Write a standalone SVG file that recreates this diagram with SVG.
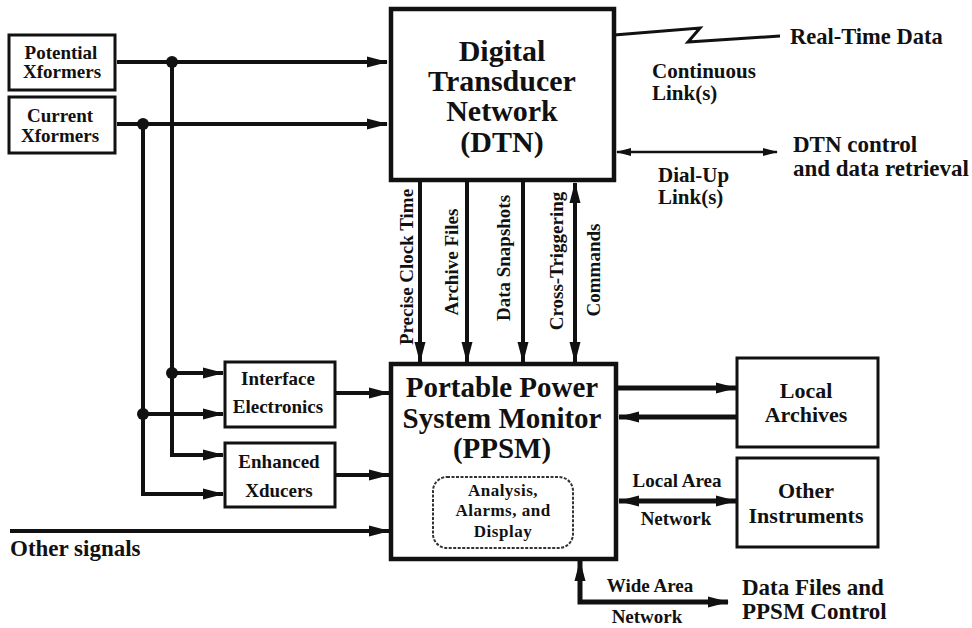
<svg xmlns="http://www.w3.org/2000/svg" width="972" height="628" viewBox="0 0 972 628">
<style>
text{font-family:'Liberation Serif',Tinos,'Times New Roman','DejaVu Serif',serif;font-weight:bold;fill:#111}
.box{fill:#fff;stroke:#111;stroke-width:3}
.big{fill:#fff;stroke:#111;stroke-width:4.5}
.ln{fill:none;stroke:#111;stroke-width:4}
.hv{fill:none;stroke:#111;stroke-width:5}
.c{text-anchor:middle}
</style>
<defs>
<marker id="ah" markerUnits="userSpaceOnUse" markerWidth="22" markerHeight="14" refX="20" refY="7" orient="auto-start-reverse">
<path d="M0,1.5 L21,7 L0,12.5 z" fill="#111"/>
</marker>
<marker id="ahs" markerUnits="userSpaceOnUse" markerWidth="16" markerHeight="10" refX="14" refY="5" orient="auto-start-reverse">
<path d="M0,1 L15,5 L0,9 z" fill="#111"/>
</marker>
</defs>
<rect width="972" height="628" fill="#fff"/>

<g id="connectors">
<path class="ln" d="M117,62 H387" marker-end="url(#ah)"/>
<path class="ln" d="M117,124 H387" marker-end="url(#ah)"/>
<path class="ln" d="M172,62 V455 H223" marker-end="url(#ah)"/>
<path class="ln" d="M172,373 H223" marker-end="url(#ah)"/>
<path class="ln" d="M143,124 V494 H223" marker-end="url(#ah)"/>
<path class="ln" d="M143,414 H223" marker-end="url(#ah)"/>
<circle cx="172" cy="62" r="6" fill="#111"/>
<circle cx="143" cy="124" r="6" fill="#111"/>
<circle cx="172" cy="373" r="6" fill="#111"/>
<circle cx="143" cy="414" r="6" fill="#111"/>
<path class="ln" d="M335,393 H389" marker-end="url(#ah)"/>
<path class="ln" d="M335,475 H389" marker-end="url(#ah)"/>
<path class="ln" d="M10,531 H389" marker-end="url(#ah)"/>
<path class="ln" d="M420,182 V362" marker-end="url(#ah)"/>
<path class="ln" d="M467,182 V362" marker-end="url(#ah)"/>
<path class="ln" d="M523,182 V362" marker-end="url(#ah)"/>
<path class="ln" d="M575,183 V362" marker-start="url(#ah)" marker-end="url(#ah)"/>
<path class="hv" d="M618,388 H736" marker-end="url(#ah)"/>
<path class="hv" d="M737,417 H619" marker-end="url(#ah)"/>
<path class="hv" d="M619,501 H736" marker-start="url(#ah)" marker-end="url(#ah)"/>
<path class="hv" d="M728,602 H580 V561" marker-start="url(#ah)" marker-end="url(#ah)"/>
<path fill="none" stroke="#111" stroke-width="2.5" d="M617,152 H777" marker-start="url(#ahs)" marker-end="url(#ahs)"/>
<path fill="none" stroke="#111" stroke-width="3" stroke-linejoin="miter" d="M614,35 L700,28 L688,42 L780,36"/>
</g>

<g id="potential-xformers">
<rect class="box" x="9" y="35" width="106" height="55"/>
<text class="c" x="61" y="59" font-size="19">Potential</text>
<text class="c" x="62" y="78" font-size="19">Xformers</text>
</g>
<g id="current-xformers">
<rect class="box" x="9" y="97" width="106" height="56"/>
<text class="c" x="60" y="122" font-size="19">Current</text>
<text class="c" x="60" y="142" font-size="19">Xformers</text>
</g>

<g id="dtn">
<rect class="big" x="391" y="9" width="223" height="171"/>
<text class="c" x="502" y="61" font-size="30">Digital</text>
<text class="c" x="502" y="91" font-size="30">Transducer</text>
<text class="c" x="502" y="121" font-size="30">Network</text>
<text class="c" x="502" y="152" font-size="30">(DTN)</text>
</g>

<g id="dtn-labels">
<text x="790" y="44" font-size="22.5">Real-Time Data</text>
<text x="652" y="78" font-size="21">Continuous</text>
<text x="652" y="100" font-size="21">Link(s)</text>
<text x="793" y="152" font-size="23">DTN control</text>
<text x="793" y="176" font-size="23">and data retrieval</text>
<text x="658" y="182" font-size="21">Dial-Up</text>
<text x="658" y="204" font-size="21">Link(s)</text>
</g>

<g id="vertical-labels" font-size="19">
<text class="c" transform="translate(413,267) rotate(-90)">Precise Clock Time</text>
<text class="c" transform="translate(458,262) rotate(-90)">Archive Files</text>
<text class="c" transform="translate(510,258) rotate(-90)">Data Snapshots</text>
<text class="c" transform="translate(563,261) rotate(-90)">Cross-Triggering</text>
<text class="c" transform="translate(600,270) rotate(-90)">Commands</text>
</g>

<g id="interface-electronics">
<rect class="box" x="225" y="362" width="110" height="65"/>
<text class="c" x="278" y="385" font-size="19">Interface</text>
<text class="c" x="278" y="413" font-size="19">Electronics</text>
</g>
<g id="enhanced-xducers">
<rect class="box" x="225" y="443" width="110" height="64"/>
<text class="c" x="279" y="468" font-size="19">Enhanced</text>
<text class="c" x="279" y="497" font-size="19">Xducers</text>
</g>

<g id="other-signals">
<text x="10" y="556" font-size="23">Other signals</text>
</g>

<g id="ppsm">
<rect class="big" x="391" y="364" width="225" height="195"/>
<text class="c" x="502" y="397" font-size="29">Portable Power</text>
<text class="c" x="502" y="428" font-size="29">System Monitor</text>
<text class="c" x="502" y="458" font-size="29">(PPSM)</text>
</g>
<g id="analysis">
<rect x="433" y="477" width="140" height="71" rx="14" fill="#fff" stroke="#333" stroke-width="2" stroke-dasharray="3,1.5"/>
<text class="c" x="503" y="496" font-size="17" letter-spacing="0.5">Analysis,</text>
<text class="c" x="503" y="516" font-size="17" letter-spacing="0.5">Alarms, and</text>
<text class="c" x="503" y="537" font-size="17" letter-spacing="0.5">Display</text>
</g>

<g id="local-archives">
<rect class="box" x="737" y="358" width="141" height="89"/>
<text class="c" x="806" y="398" font-size="22">Local</text>
<text class="c" x="806" y="422" font-size="22">Archives</text>
</g>
<g id="other-instruments">
<rect class="box" x="737" y="458" width="141" height="89"/>
<text class="c" x="806" y="498" font-size="22">Other</text>
<text class="c" x="806" y="523" font-size="22">Instruments</text>
</g>

<g id="network-labels">
<text class="c" x="677" y="487" font-size="19">Local Area</text>
<text class="c" x="676" y="525" font-size="19">Network</text>
<text class="c" x="650" y="592" font-size="19">Wide Area</text>
<text class="c" x="647" y="623" font-size="19">Network</text>
<text x="742" y="595" font-size="23">Data Files and</text>
<text x="742" y="619" font-size="23">PPSM Control</text>
</g>
</svg>
